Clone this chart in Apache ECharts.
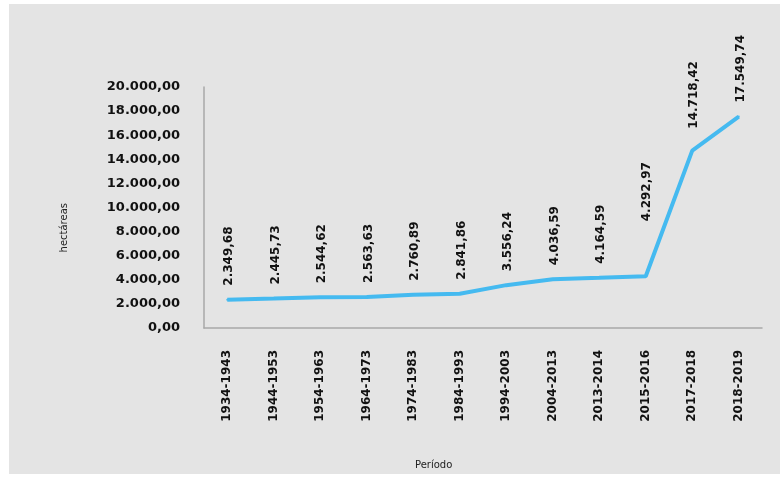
<!DOCTYPE html>
<html><head><meta charset="utf-8">
<script src="https://cdn.jsdelivr.net/npm/echarts@6/dist/echarts.min.js"></script>
<style>html,body{margin:0;padding:0;background:#fff}#c{width:780px;height:477px}</style>
</head><body><div id="c"></div>
<script>
const categories = ['1934-1943','1944-1953','1954-1963','1964-1973','1974-1983','1984-1993','1994-2003','2004-2013','2013-2014','2015-2016','2017-2018','2018-2019'];
const hectares = [2349.68, 2445.73, 2544.62, 2563.63, 2760.89, 2841.86, 3556.24, 4036.59, 4164.59, 4292.97, 14718.42, 17549.74];
const yTicks = {min: 0, max: 20000, interval: 2000};
const yTitle = 'hectáreas';
const xTitle = 'Período';

function fmt(v){
  const parts = v.toFixed(2).split('.');
  parts[0] = parts[0].replace(/\B(?=(\d{3})+(?!\d))/g, '.');
  return parts[0] + ',' + parts[1];
}
const FONT = 'DejaVu Sans';
const chart = echarts.init(document.getElementById('c'), null, {renderer:'canvas'});
chart.setOption({
  animation: false,
  backgroundColor: '#ffffff',
  graphic: [
    {type:'rect', z:-10, shape:{x:9, y:4, width:771, height:470}, style:{fill:'#e4e4e4'}},
    {type:'text', left:59, top:203, rotation:Math.PI/2, style:{text:yTitle, font:'10px "DejaVu Sans"', fill:'#222'}},
    {type:'text', left:415, top:460, style:{text:xTitle, font:'10px "DejaVu Sans"', fill:'#222'}}
  ],
  grid: {left:204, right:18, top:87, bottom:149, containLabel:false},
  xAxis: {
    type:'category', data: categories, boundaryGap: true,
    axisLine:{show:true, lineStyle:{color:'#a8a8a8', width:1.5}},
    axisTick:{show:false},
    axisLabel:{rotate:90, margin:22, interval:0, color:'#111', fontFamily:FONT, fontWeight:'bold', fontSize:12}
  },
  yAxis: {
    type:'value', min:yTicks.min, max:yTicks.max, interval:yTicks.interval,
    axisLine:{show:true, lineStyle:{color:'#a8a8a8', width:1.5}},
    axisTick:{show:false},
    splitLine:{show:false},
    axisLabel:{margin:24, color:'#111', fontFamily:FONT, fontWeight:'bold', fontSize:13, formatter: v => fmt(v)}
  },
  series: [{
    type:'line', data: hectares, showSymbol:true, symbol:'circle', symbolSize:2,
    itemStyle:{color:'#45baf0'},
    lineStyle:{color:'#45baf0', width:4},
    labelLayout: function (p) {
      // offsets are in the rotated label's own frame: dx = up the screen, dy = right
      if (p.dataIndex === 9) return {dx: 41, dy: 1, hideOverlap:false};
      if (p.dataIndex === 10) return {dx: 8, dy: 2, hideOverlap:false};
      return {dx: 0, dy: 2, hideOverlap:false};
    },
    label:{show:true, position:'top', distance:13, rotate:90, align:'left', verticalAlign:'middle',
      color:'#111', fontFamily:FONT, fontWeight:'bold', fontSize:12, formatter: p => fmt(p.value)}
  }]
});
</script></body></html>
